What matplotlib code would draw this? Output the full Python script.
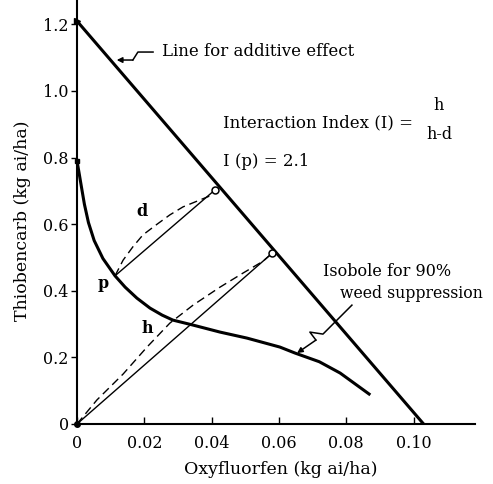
import matplotlib.pyplot as plt

# isobole for 90% weed suppression (oxyfluorfen, thiobencarb) in kg ai/ha
iso_x = [0.0, 0.0006, 0.0013, 0.0022, 0.0034, 0.0051, 0.0077, 0.0113, 0.0143, 0.0178, 0.0217, 0.0253, 0.0285,
         0.0345, 0.0425, 0.0505, 0.0603, 0.0648, 0.0720, 0.0782, 0.0868]
iso_y = [0.79, 0.755, 0.713, 0.660, 0.605, 0.551, 0.497, 0.445, 0.411, 0.378, 0.348, 0.327, 0.312,
         0.297, 0.276, 0.258, 0.231, 0.213, 0.187, 0.153, 0.090]

# line for additive effect
add_x = [0.0, 0.103]
add_y = [1.21, 0.0]

# d segment (p -> additive line) and its dashed arc
d_x = [0.0113, 0.0410]
d_y = [0.445, 0.703]
d_arc_x = [0.0113, 0.0137, 0.0166, 0.0196, 0.0238, 0.0276, 0.0315, 0.0366, 0.0395, 0.0410]
d_arc_y = [0.445, 0.492, 0.532, 0.568, 0.600, 0.628, 0.652, 0.673, 0.685, 0.700]

# h segment (origin -> additive line) and its dashed arc
h_x = [0.0, 0.058]
h_y = [0.0, 0.513]
h_arc_x = [0.0, 0.0059, 0.0137, 0.0208, 0.0276, 0.0345, 0.0425, 0.0493, 0.0553, 0.058]
h_arc_y = [0.0, 0.072, 0.150, 0.231, 0.303, 0.357, 0.411, 0.453, 0.489, 0.513]

# open circles where the segments meet the additive line
circ_x = [0.0410, 0.058]
circ_y = [0.703, 0.513]

# zigzag pointers
zz_add_x = [0.0226, 0.0181, 0.0166, 0.0118]
zz_add_y = [1.117, 1.117, 1.093, 1.093]
zz_iso_x = [0.0817, 0.0731, 0.0692, 0.0710, 0.0654]
zz_iso_y = [0.357, 0.270, 0.276, 0.252, 0.213]

xticks = [0, 0.02, 0.04, 0.06, 0.08, 0.10]
xticklabels = ['0', '0.02', '0.04', '0.06', '0.08', '0.10']
yticks = [0, 0.2, 0.4, 0.6, 0.8, 1.0, 1.2]
yticklabels = ['0', '0.2', '0.4', '0.6', '0.8', '1.0', '1.2']

plt.rcParams['font.family'] = ['DejaVu Serif']
plt.rcParams['font.size'] = 11.5

fig = plt.figure(figsize=(4.93, 4.84), dpi=100)
ax = fig.add_axes([77 / 493, 60 / 484, 398 / 493, 424 / 484])

ax.plot(add_x, add_y, color='black', lw=2.2, solid_capstyle='butt')
ax.plot(iso_x, iso_y, color='black', lw=2.2, solid_joinstyle='round')

dash = (0, (6, 3.5))
ax.plot(d_x, d_y, color='black', lw=1.0)
ax.plot(h_x, h_y, color='black', lw=1.0)
ax.plot(d_arc_x, d_arc_y, color='black', lw=1.0, ls=dash)
ax.plot(h_arc_x, h_arc_y, color='black', lw=1.0, ls=dash)

ax.plot(circ_x, circ_y, 'o', ms=5, mfc='white', mec='black', mew=1.1, zorder=5)
ax.plot([0], [0.79], 's', ms=3.5, color='black', clip_on=False)
ax.plot([0], [1.21], '>', ms=4, color='black', clip_on=False)
ax.plot([0], [0], 'o', ms=4, color='black', clip_on=False)

# pointers with arrow heads
ax.plot(zz_add_x[:-1], zz_add_y[:-1], color='black', lw=1.1)
ax.annotate('', xy=(zz_add_x[-1], zz_add_y[-1]), xytext=(zz_add_x[-2], zz_add_y[-2]),
            arrowprops=dict(arrowstyle='-|>', color='black', lw=1.1, mutation_scale=8, shrinkA=0, shrinkB=0))
ax.plot(zz_iso_x[:-1], zz_iso_y[:-1], color='black', lw=1.1)
ax.annotate('', xy=(zz_iso_x[-1], zz_iso_y[-1]), xytext=(zz_iso_x[-2], zz_iso_y[-2]),
            arrowprops=dict(arrowstyle='-|>', color='black', lw=1.1, mutation_scale=8, shrinkA=0, shrinkB=0))

# labels on the chart
ax.text(0.0253, 1.118, 'Line for additive effect', va='center', ha='left', fontsize=12)
ax.text(0.0434, 0.904, 'Interaction Index (I) =', va='center', ha='left', fontsize=12)
ax.text(0.1073, 0.955, 'h', va='center', ha='center')
ax.text(0.1076, 0.868, 'h-d', va='center', ha='center')
ax.text(0.0434, 0.787, 'I (p) = 2.1', va='center', ha='left', fontsize=12)
ax.text(0.0731, 0.459, 'Isobole for 90%', va='center', ha='left')
ax.text(0.0782, 0.393, 'weed suppression', va='center', ha='left', fontsize=11.3)
ax.text(0.0193, 0.637, 'd', va='center', ha='center', fontweight='bold')
ax.text(0.0077, 0.423, 'p', va='center', ha='center', fontweight='bold')
ax.text(0.0208, 0.288, 'h', va='center', ha='center', fontweight='bold')

ax.set_xlim(0, 398 / 3365)
ax.set_ylim(0, 424 / 333)
ax.set_xticks(xticks)
ax.set_xticklabels(xticklabels)
ax.set_yticks(yticks)
ax.set_yticklabels(yticklabels)
ax.tick_params(axis='x', direction='in', length=5, width=1, pad=8)
ax.tick_params(axis='y', direction='out', length=4, width=1, pad=2)

for s in ['top', 'right']:
    ax.spines[s].set_visible(False)
ax.spines['left'].set_linewidth(1.5)
ax.spines['bottom'].set_linewidth(1.5)

fig.text(281 / 493, 1 - 470 / 484, 'Oxyfluorfen (kg ai/ha)', ha='center', va='center', fontsize=12.5)
fig.text(23 / 493, 1 - 221 / 484, 'Thiobencarb (kg ai/ha)', ha='center', va='center', rotation=90, fontsize=12.5)

fig.savefig('out.png', dpi=100)
